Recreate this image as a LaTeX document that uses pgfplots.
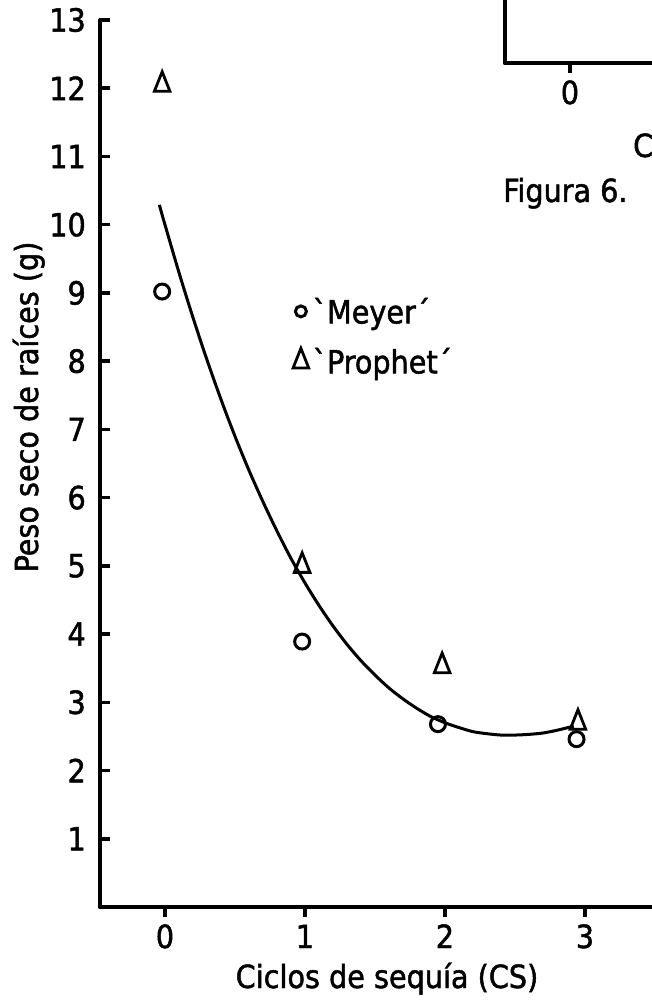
\documentclass[border=0pt]{standalone}
\usepackage{pgfplots}
\pgfplotsset{compat=1.18}
\usepackage{fontspec}
\setmainfont{DejaVu Sans Condensed}[FakeBold=1.5]
\pgfplotsset{
  chartstyle/.style={
    font=\fontsize{32}{38}\selectfont,
    scale only axis,
    width=552bp,
    xmin=-0.464, xmax=3.479,
    axis x line=bottom, axis y line=left,
    axis line style={-, line width=4bp, line cap=round},
    xtick align=outside, ytick align=inside,
    major tick length=10bp,
    major tick style={black, line width=3.5bp},
    /pgf/number format/assume math mode=true,
    xticklabel style={anchor=base, inner sep=0pt, yshift=-31bp},
    yticklabel style={anchor=east, inner sep=0pt, xshift=-14bp},
  },
  legcirc/.style={legend image code/.code={\draw[##1, mark size=5.5bp] plot coordinates {(0bp,0bp)};}},
  legtri/.style={legend image code/.code={\draw[##1] plot coordinates {(0bp,0bp)};}},
}
\begin{document}
\begin{tikzpicture}
\useasboundingbox (0,0) rectangle (652bp,1000bp);
% main chart
\begin{axis}[chartstyle,
  at={(100bp,93bp)}, anchor=south west,
  height=887bp, ymin=0, ymax=13,
  xtick={0,1,2,3}, ytick={1,2,...,13},
  xlabel={Ciclos de sequía (CS)},
  ylabel={Peso seco de raíces (g)},
  every axis x label/.style={at={(axis description cs:0.52,0)}, anchor=base, yshift=-81bp},
  every axis y label/.style={at={(axis description cs:-0.1123,0.5637)}, rotate=90, anchor=base},
  legend style={draw=none, fill=none, at={(axis cs:0.914,8.93)}, anchor=north west,
    inner sep=0pt, row sep=23bp, column sep=4bp, nodes={inner sep=0pt}},
  legend cell align=left,
]
\addplot[black, line width=3bp, smooth, forget plot] coordinates {
(-0.04,10.29) (0,10.00) (0.1,9.30) (0.2,8.64) (0.3,8.02) (0.4,7.44) (0.5,6.90)
(0.6,6.40) (0.7,5.94) (0.8,5.51) (0.9,5.11) (1.0,4.75) (1.1,4.42) (1.2,4.12)
(1.3,3.85) (1.4,3.61) (1.5,3.40) (1.6,3.21) (1.7,3.05) (1.8,2.91) (1.9,2.79)
(2.0,2.70) (2.1,2.63) (2.2,2.57) (2.3,2.54) (2.4,2.52) (2.5,2.52) (2.6,2.53)
(2.7,2.55) (2.8,2.59) (2.9,2.64) (2.92,2.65)};
\addplot[only marks, black, mark=o, mark size=7.5bp, line width=3bp, legcirc]
  coordinates {(-0.02,9.02) (0.98,3.89) (1.95,2.68) (2.94,2.46)};
\addlegendentry{ˋMeyer´}
\addplot[only marks, black, mark=triangle, mark size=9bp, line width=2.8bp,
  mark options={yscale=1.45}, legtri]
  coordinates {(-0.02,12.05) (0.98,5.0) (1.98,3.53) (2.95,2.70)};
\addlegendentry{ˋProphet´}
\end{axis}
% fragment of the neighbouring figure (cropped by the page edge)
\begin{axis}[chartstyle,
  at={(505bp,937bp)}, anchor=south west,
  height=300bp, ymin=0, ymax=5,
  xtick={0}, ytick=\empty,
]
\end{axis}
\node[anchor=base west, inner sep=0pt, font=\fontsize{32}{38}\selectfont] at (633bp,843bp) {C};
\node[anchor=base west, inner sep=0pt, font=\fontsize{32}{38}\selectfont] at (503bp,798bp) {Figura 6.};
\end{tikzpicture}
\end{document}
